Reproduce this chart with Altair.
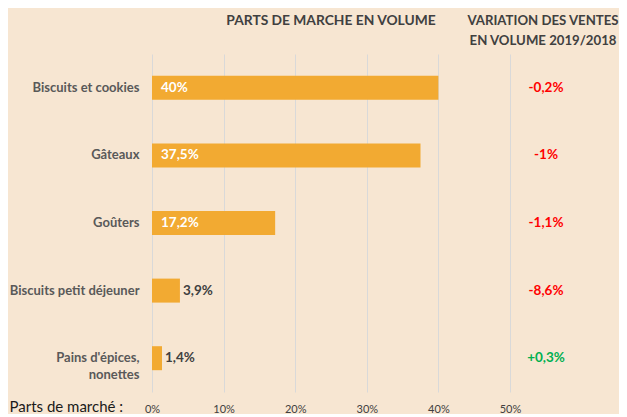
import altair as alt
import pandas as pd

categories = ["Biscuits et cookies", "Gâteaux", "Goûters", "Biscuits petit déjeuner", "Pains d'épices,\nnonettes"]
shares = [0.40, 0.375, 0.172, 0.039, 0.014]
share_labels = ["40%", "37,5%", "17,2%", "3,9%", "1,4%"]
variations = ["-0,2%", "-1%", "-1,1%", "-8,6%", "+0,3%"]
var_sign = ["neg", "neg", "neg", "neg", "pos"]
inside = [True, True, True, False, False]

df = pd.DataFrame({
    "cat": categories, "share": shares, "label": share_labels,
    "var": variations, "sign": var_sign, "inside": inside,
})

FONT = "Lato"
BG = "#F7E6D2"
BAR = "#F2AA32"

yenc = alt.Y("cat:N", sort=categories, title=None,
             scale=alt.Scale(paddingInner=0.645, paddingOuter=0.3225),
             axis=alt.Axis(domain=False, ticks=False, grid=False, labelPadding=13,
                           labelFont=FONT, labelFontWeight="bold", labelFontSize=13,
                           labelColor="#595959", labelLimit=300, labelLineHeight=17,
                           labelExpr="split(datum.label, '\\n')"))

xscale = alt.Scale(domain=[0, 0.5])
xaxis = alt.Axis(format=".0%", values=[0, 0.1, 0.2, 0.3, 0.4, 0.5], domain=False, ticks=False,
                 grid=True, gridColor="#D9D9D9", gridWidth=1, labelFont=FONT, labelFontSize=11,
                 labelColor="#404040", labelPadding=11, labelFlush=False,
                 title="Parts de marché :", titleFont=FONT, titleFontSize=15, titleFontWeight="normal",
                 titleColor="#1a1a1a", titleAnchor="start", titleAlign="left", titleX=-143, titleY=14,
                 titleBaseline="middle", titleAngle=0)

base = alt.Chart(df)
bars = base.mark_bar(color=BAR).encode(x=alt.X("share:Q", scale=xscale, axis=xaxis), y=yenc)
txt_in = base.transform_filter("datum.inside").mark_text(
    align="left", dx=9, font=FONT, fontWeight="bold", fontSize=13.5, color="white"
).encode(x=alt.datum(0, scale=xscale), y=alt.Y("cat:N", sort=categories), text="label:N")
txt_out = base.transform_filter("!datum.inside").mark_text(
    align="left", dx=3, font=FONT, fontWeight="bold", fontSize=13.5, color="#404040"
).encode(x=alt.X("share:Q"), y=alt.Y("cat:N", sort=categories), text="label:N")

left = alt.layer(bars, txt_in, txt_out).properties(
    width=358, height=338,
    title=alt.TitleParams("PARTS DE MARCHE EN VOLUME", font=FONT, fontSize=13.8, fontWeight="bold",
                          color="#404040", anchor="middle", offset=26),
)

right = base.mark_text(font=FONT, fontWeight="bold", fontSize=13.5).encode(
    y=alt.Y("cat:N", sort=categories, axis=None,
            scale=alt.Scale(paddingInner=0.645, paddingOuter=0.3225)),
    text="var:N",
    color=alt.Color("sign:N", scale=alt.Scale(domain=["neg", "pos"], range=["#FF0000", "#00B050"]),
                    legend=None),
).properties(
    width=60, height=338,
    title=alt.TitleParams(["VARIATION DES VENTES", "EN VOLUME 2019/2018"], font=FONT, fontSize=13.2,
                          fontWeight="bold", color="#404040", anchor="middle", offset=6, lineHeight=20,
                          dx=-3),
)

chart = alt.hconcat(left, right, spacing=6, bounds="flush").configure(
    background=BG, padding={"left": 1, "top": 5, "right": 0, "bottom": 0}
).configure_view(stroke=None, fill=BG)

chart.save("out.html", embed_options={"renderer": "svg", "actions": False})
